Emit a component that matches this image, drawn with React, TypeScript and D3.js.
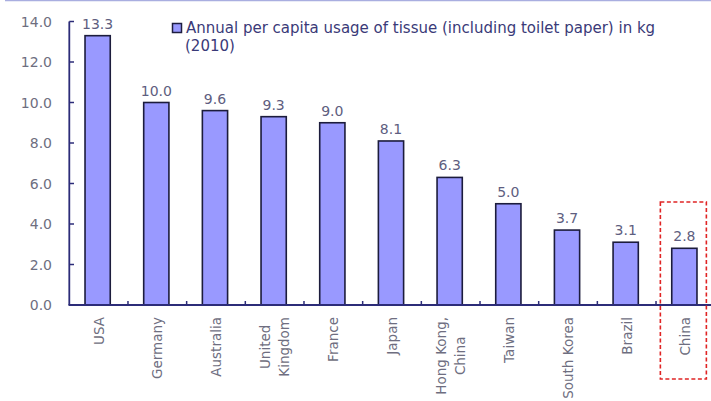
import React from "react";
import * as d3 from "d3";

const categories: string[][] = [
  ["USA"],
  ["Germany"],
  ["Australia"],
  ["United", "Kingdom"],
  ["France"],
  ["Japan"],
  ["Hong Kong,", "China"],
  ["Taiwan"],
  ["South Korea"],
  ["Brazil"],
  ["China"],
];
const values: number[] = [13.3, 10.0, 9.6, 9.3, 9.0, 8.1, 6.3, 5.0, 3.7, 3.1, 2.8];
const yTicks: number[] = [0, 2, 4, 6, 8, 10, 12, 14];
const legendLines: string[] = [
  "Annual per capita usage of tissue (including toilet paper) in kg",
  "(2010)",
];
const highlightIndex = 10;

const W = 711;
const H = 401;
const FONT = "'DejaVu Sans', Verdana, sans-serif";
const CAT_FS = 13.5;

let ctx: CanvasRenderingContext2D | null = null;
function measure(t: string, fs: number): number {
  if (!ctx && typeof document !== "undefined") {
    ctx = document.createElement("canvas").getContext("2d");
  }
  if (!ctx) return t.length * fs * 0.6;
  ctx.font = `${fs}px 'DejaVu Sans'`;
  return ctx.measureText(t).width;
}

export default function App() {
  const keys = categories.map((c) => c.join(" "));
  const x = d3.scaleBand<string>().domain(keys).range([69.3, 714.7]).paddingInner(0).paddingOuter(0);
  const y = d3.scaleLinear().domain([0, 14]).range([305, 21.5]);
  const barW = x.bandwidth() * 0.43;
  const axisColor = "#2c2c78";
  const tickColor = "#6e6e80";
  const labelTop = 317;

  const boundaries = keys.slice(1).map((k) => x(k) as number);
  const hx = x(keys[highlightIndex]) as number;

  return (
    <div style={{ position: "fixed", left: 0, top: 0, width: W, height: H, background: "#fff" }}>
      <svg width={W} height={H} style={{ display: "block" }} fontFamily={FONT}>
        <rect x={0} y={0} width={W} height={H} fill="#fff" />
        <line x1={5} x2={W} y1={0.5} y2={0.5} stroke="#a9aee0" strokeWidth={1.5} />

        {/* legend */}
        <rect x={172.5} y={23.5} width={9} height={9} fill="#9999ff" stroke="#1e1e40" strokeWidth={1.5} />
        {legendLines.map((t, i) => (
          <text key={i} x={i === 0 ? 186 : 185} y={33 + i * 18} fontSize={15} fill="#3a3a78">
            {t}
          </text>
        ))}

        {/* bars */}
        {values.map((v, i) => {
          const cx = (x(keys[i]) as number) + x.bandwidth() / 2 - 1;
          return (
            <g key={i}>
              <rect
                x={cx - barW / 2}
                y={y(v)}
                width={barW}
                height={y(0) - y(v)}
                fill="#9999ff"
                stroke="#1c1c3c"
                strokeWidth={1.6}
              />
              <text x={cx} y={y(v) - 7} textAnchor="middle" fontSize={14} fill="#5e5e80">
                {v.toFixed(1)}
              </text>
            </g>
          );
        })}

        {/* y axis */}
        <line x1={69.3} x2={69.3} y1={y(14)} y2={y(0)} stroke={axisColor} strokeWidth={1.8} />
        {yTicks.map((t) => (
          <g key={t}>
            <line x1={69.3} x2={74} y1={y(t)} y2={y(t)} stroke={axisColor} strokeWidth={1.5} />
            <text x={52} y={y(t)} textAnchor="end" dominantBaseline="central" fontSize={14} fill={tickColor}>
              {t.toFixed(1)}
            </text>
          </g>
        ))}

        {/* x axis */}
        <line x1={68.5} x2={W} y1={y(0)} y2={y(0)} stroke={axisColor} strokeWidth={1.8} />
        {boundaries.map((b, i) => (
          <line key={i} x1={b} x2={b} y1={y(0)} y2={y(0) - 4} stroke={axisColor} strokeWidth={1.5} />
        ))}

        {/* category labels */}
        {categories.map((lines, i) => {
          const cx = (x(keys[i]) as number) + x.bandwidth() / 2;
          const n = lines.length;
          const maxW = Math.max(...lines.map((l) => measure(l, CAT_FS)));
          const centerY = labelTop + maxW / 2;
          return lines.map((ln, j) => {
            const lx = cx + (j - (n - 1) / 2) * 18.5;
            return (
              <text
                key={i + "-" + j}
                transform={`translate(${lx},${centerY}) rotate(-90)`}
                textAnchor="middle"
                dominantBaseline="central"
                fontSize={CAT_FS}
                fill={tickColor}
              >
                {ln}
              </text>
            );
          });
        })}

        {/* highlight box */}
        <rect
          x={hx + (x.bandwidth() - 46) / 2 - 2}
          y={202}
          width={46}
          height={177}
          fill="none"
          stroke="#e02424"
          strokeWidth={1.6}
          strokeDasharray="4,2.5"
        />
      </svg>
    </div>
  );
}
